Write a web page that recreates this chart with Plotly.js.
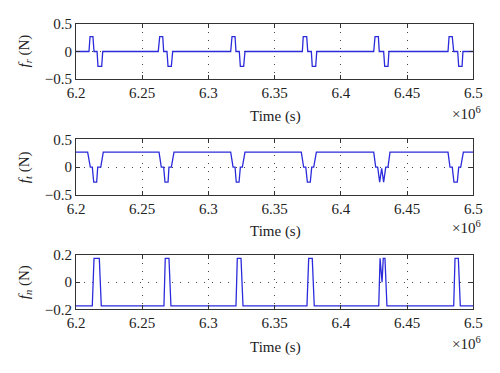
<!DOCTYPE html>
<html>
<head>
<meta charset="utf-8">
<script src="https://cdn.plot.ly/plotly-3.0.1.min.js"></script>
<style>html,body{margin:0;padding:0;background:#fff;}#chart{width:500px;height:373px;}</style>
</head>
<body>
<div id="chart"></div>
<script>
// Time in units of 10^6 s
const xTickVals = [6.2, 6.25, 6.3, 6.35, 6.4, 6.45, 6.5];
const xTickText = ["6.2", "6.25", "6.3", "6.35", "6.4", "6.45", "6.5"];

// f_r
const t_r = [6.2,
  6.2098, 6.2106, 6.2128, 6.2136, 6.2159, 6.2166, 6.2194, 6.2202,
  6.2621, 6.2632, 6.2655, 6.2662, 6.2687, 6.2695, 6.2720, 6.2730,
  6.3168, 6.3178, 6.3201, 6.3208, 6.3233, 6.3241, 6.3266, 6.3276,
  6.3709, 6.3716, 6.3742, 6.3750, 6.3777, 6.3784, 6.3810, 6.3818,
  6.4248, 6.4258, 6.4283, 6.4290, 6.4323, 6.4331, 6.4356, 6.4363,
  6.4809, 6.4817, 6.4841, 6.4852, 6.4882, 6.4890, 6.4915, 6.4922,
  6.5];
const f_r = [0,
  0, 0.27, 0.27, 0, 0, -0.27, -0.27, 0,
  0, 0.27, 0.27, 0, 0, -0.27, -0.27, 0,
  0, 0.27, 0.27, 0, 0, -0.27, -0.27, 0,
  0, 0.27, 0.27, 0, 0, -0.27, -0.27, 0,
  0, 0.27, 0.27, 0, 0, -0.27, -0.27, 0,
  0, 0.27, 0.27, 0, 0, -0.27, -0.27, 0,
  0];

// f_t
const t_t = [6.2,
  6.2088, 6.2108, 6.2123, 6.2134, 6.2156, 6.2164, 6.2187, 6.2206,
  6.2627, 6.2644, 6.2662, 6.2672, 6.2695, 6.2702, 6.2720, 6.2740,
  6.3168, 6.3186, 6.3201, 6.3210, 6.3231, 6.3241, 6.3256, 6.3276,
  6.3701, 6.3719, 6.3735, 6.3747, 6.3769, 6.3780, 6.3795, 6.3815,
  6.4248, 6.4263, 6.4278, 6.4293, 6.4308, 6.4323, 6.4339, 6.4356, 6.4371,
  6.4809, 6.4824, 6.4841, 6.4854, 6.4879, 6.4890, 6.4905, 6.4925,
  6.5];
const f_t = [0.27,
  0.27, 0, 0, -0.27, -0.27, 0, 0, 0.27,
  0.27, 0, 0, -0.27, -0.27, 0, 0, 0.27,
  0.27, 0, 0, -0.27, -0.27, 0, 0, 0.27,
  0.27, 0, 0, -0.27, -0.27, 0, 0, 0.27,
  0.27, 0, 0, -0.27, -0.02, -0.27, 0, 0, 0.27,
  0.27, 0, 0, -0.27, -0.27, 0, 0, 0.27,
  0.27];

// f_n
const t_n = [6.2,
  6.2123, 6.2136, 6.2176, 6.2191,
  6.2664, 6.2674, 6.2702, 6.2717,
  6.3208, 6.3218, 6.3246, 6.3261,
  6.3744, 6.3757, 6.3784, 6.3799,
  6.4286, 6.4296, 6.4311, 6.4320, 6.4333, 6.4348,
  6.4852, 6.4862, 6.4887, 6.4902,
  6.5];
const f_n = [-0.175,
  -0.175, 0.175, 0.175, -0.175,
  -0.175, 0.175, 0.175, -0.175,
  -0.175, 0.175, 0.175, -0.175,
  -0.175, 0.175, 0.175, -0.175,
  -0.175, 0.175, 0.0, 0.175, 0.175, -0.175,
  -0.175, 0.175, 0.175, -0.175,
  -0.175];

const yTicks1 = [-0.5, 0, 0.5];
const yTicks3 = [-0.2, 0, 0.2];

const W = 500, H = 373;
const lineStyle = {color: '#2b2bdc', width: 1.3};
const font = {family: 'Liberation Serif', size: 15, color: '#222'};

const traces = [
  {x: t_r, y: f_r, xaxis: 'x', yaxis: 'y', mode: 'lines', line: lineStyle, hoverinfo: 'skip'},
  {x: t_t, y: f_t, xaxis: 'x2', yaxis: 'y2', mode: 'lines', line: lineStyle, hoverinfo: 'skip'},
  {x: t_n, y: f_n, xaxis: 'x3', yaxis: 'y3', mode: 'lines', line: lineStyle, hoverinfo: 'skip'}
];

function py(px) { return (H - px) / H; }
const xDom = [76 / W, 473.3 / W];

function xAxis(anchor) {
  return {
    domain: xDom, anchor: anchor, range: [6.2, 6.5],
    tickmode: 'array', tickvals: xTickVals, ticktext: xTickText,
    ticks: 'inside', ticklen: 4, tickcolor: '#333',
    showline: true, linecolor: '#333', linewidth: 1, mirror: 'ticks',
    showgrid: true, gridcolor: '#444', gridwidth: 1, griddash: '1px,7px',
    zeroline: false, tickfont: font, fixedrange: true
  };
}
function yAxis(anchor, dom, range, ticks) {
  return {
    domain: dom, anchor: anchor, range: range,
    tickmode: 'array', tickvals: ticks,
    ticks: 'inside', ticklen: 4, tickcolor: '#333',
    showline: true, linecolor: '#333', linewidth: 1, mirror: 'ticks',
    showgrid: true, gridcolor: '#444', gridwidth: 1, griddash: '1px,7px',
    zeroline: false, tickfont: font, fixedrange: true
  };
}

const ann = [];
function addTitles(yTopPx, yBotPx, label, timeY, expY) {
  ann.push({xref: 'paper', yref: 'paper', x: 25 / W, y: py((yTopPx + yBotPx) / 2),
    text: label, textangle: -90, showarrow: false, font: font, xanchor: 'center', yanchor: 'middle'});
  ann.push({xref: 'paper', yref: 'paper', x: 275 / W, y: py(timeY),
    text: 'Time (s)', showarrow: false, font: font, xanchor: 'center', yanchor: 'middle'});
  ann.push({xref: 'paper', yref: 'paper', x: 483 / W, y: py(expY),
    text: '×10<sup>6</sup>', showarrow: false, font: font, xanchor: 'right', yanchor: 'middle'});
}
addTitles(24, 79, '<i>f</i><sub><i>r</i></sub> (N)', 116, 113);
addTitles(139.3, 195, '<i>f</i><sub><i>t</i></sub> (N)', 231, 227);
addTitles(255, 309.3, '<i>f</i><sub><i>n</i></sub> (N)', 347, 343);

const layout = {
  width: W, height: H,
  margin: {l: 0, r: 0, t: 0, b: 0},
  paper_bgcolor: '#fff', plot_bgcolor: '#fff',
  showlegend: false,
  font: font,
  xaxis: xAxis('y'),
  yaxis: yAxis('x', [py(79), py(24)], [-0.5, 0.5], yTicks1),
  xaxis2: xAxis('y2'),
  yaxis2: yAxis('x2', [py(195), py(139.3)], [-0.5, 0.5], yTicks1),
  xaxis3: xAxis('y3'),
  yaxis3: yAxis('x3', [py(309.3), py(255)], [-0.2, 0.2], yTicks3),
  annotations: ann
};

Plotly.newPlot('chart', traces, layout, {displayModeBar: false, staticPlot: true});
</script>
</body>
</html>
